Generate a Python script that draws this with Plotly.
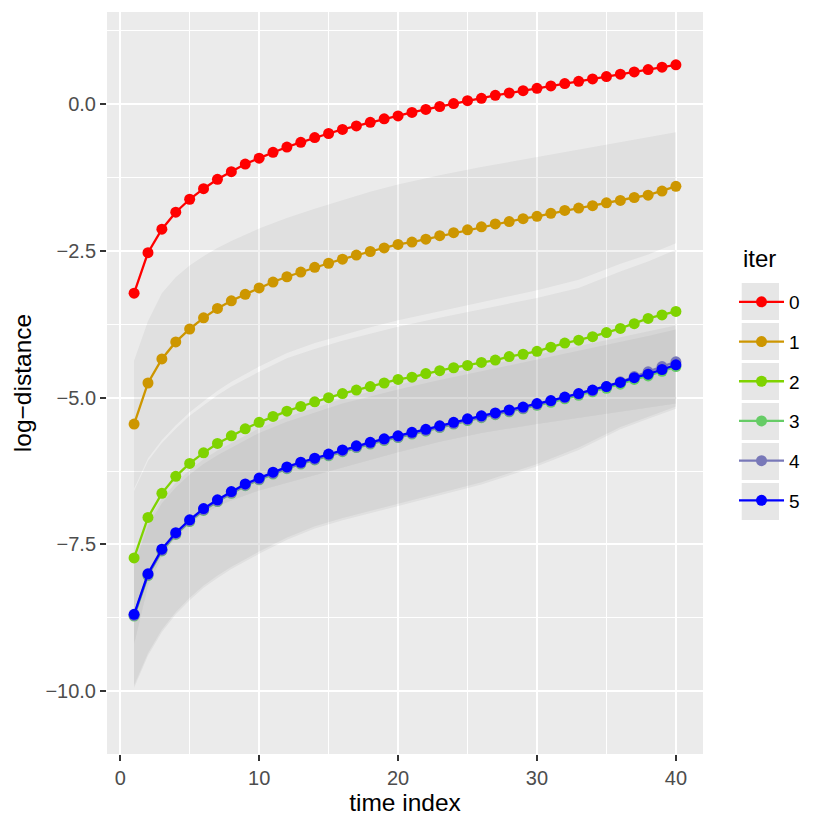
import plotly.graph_objects as go

# time index for the lines
t = list(range(1, 41))

iters = ["0", "1", "2", "3", "4", "5"]
colors = ["#FF0000", "#CD9600", "#7FD300", "#66CC66", "#7878B8", "#0000FF"]

# log-distance per iteration
dist_0 = [-3.22, -2.53, -2.13, -1.84, -1.62, -1.44, -1.28, -1.15, -1.02, -0.92,
          -0.82, -0.73, -0.65, -0.57, -0.50, -0.43, -0.37, -0.31, -0.25, -0.20,
          -0.14, -0.09, -0.04, 0.01, 0.06, 0.10, 0.15, 0.19, 0.23, 0.27,
          0.31, 0.35, 0.39, 0.43, 0.47, 0.51, 0.55, 0.59, 0.63, 0.67]
dist_1 = [-5.45, -4.75, -4.34, -4.05, -3.83, -3.64, -3.48, -3.35, -3.24, -3.13,
          -3.03, -2.94, -2.86, -2.78, -2.71, -2.64, -2.57, -2.51, -2.45, -2.39,
          -2.35, -2.30, -2.24, -2.19, -2.14, -2.09, -2.04, -2.00, -1.95, -1.91,
          -1.86, -1.81, -1.77, -1.73, -1.68, -1.64, -1.59, -1.55, -1.48, -1.40]
dist_2 = [-7.73, -7.04, -6.63, -6.34, -6.12, -5.94, -5.78, -5.65, -5.53, -5.42,
          -5.32, -5.23, -5.15, -5.07, -5.00, -4.93, -4.87, -4.81, -4.75, -4.69,
          -4.65, -4.59, -4.54, -4.49, -4.45, -4.40, -4.36, -4.30, -4.26, -4.21,
          -4.14, -4.07, -4.02, -3.96, -3.89, -3.82, -3.74, -3.65, -3.59, -3.53]
dist_3 = [-8.72, -8.03, -7.61, -7.33, -7.11, -6.92, -6.77, -6.63, -6.50, -6.40,
          -6.30, -6.21, -6.13, -6.06, -5.99, -5.92, -5.85, -5.79, -5.73, -5.68,
          -5.62, -5.57, -5.51, -5.45, -5.39, -5.34, -5.29, -5.24, -5.19, -5.13,
          -5.08, -5.02, -4.96, -4.90, -4.84, -4.77, -4.69, -4.63, -4.55, -4.47]
dist_4 = [-8.71, -8.02, -7.60, -7.32, -7.10, -6.91, -6.76, -6.62, -6.49, -6.39,
          -6.29, -6.20, -6.12, -6.05, -5.98, -5.91, -5.84, -5.78, -5.72, -5.67,
          -5.61, -5.56, -5.50, -5.44, -5.38, -5.33, -5.28, -5.23, -5.18, -5.12,
          -5.06, -5.00, -4.94, -4.88, -4.81, -4.73, -4.64, -4.56, -4.47, -4.39]
dist_5 = [-8.69, -8.00, -7.58, -7.30, -7.08, -6.89, -6.74, -6.60, -6.47, -6.37,
          -6.27, -6.18, -6.10, -6.03, -5.96, -5.89, -5.82, -5.76, -5.70, -5.65,
          -5.59, -5.54, -5.48, -5.42, -5.36, -5.31, -5.26, -5.21, -5.16, -5.10,
          -5.05, -4.99, -4.93, -4.87, -4.81, -4.74, -4.66, -4.60, -4.52, -4.44]
dists = [dist_0, dist_1, dist_2, dist_3, dist_4, dist_5]

# grey uncertainty bands, sampled at fewer time points
band_t = [1, 2, 3, 4, 5, 6, 7, 8, 10, 12, 14, 16, 18, 20, 23, 26, 30, 33, 36, 38, 40]
band0_hi = [-4.37, -3.70, -3.22, -2.95, -2.75, -2.59, -2.45, -2.33, -2.12, -1.94, -1.78,
            -1.63, -1.49, -1.37, -1.21, -1.07, -0.90, -0.77, -0.64, -0.56, -0.48]
band0_lo = [-6.55, -6.03, -5.72, -5.47, -5.25, -5.06, -4.88, -4.73, -4.47, -4.24, -4.07,
            -3.93, -3.80, -3.68, -3.52, -3.37, -3.17, -2.99, -2.72, -2.56, -2.37]
band1_hi = [-6.59, -6.08, -5.77, -5.53, -5.31, -5.13, -4.96, -4.81, -4.56, -4.33, -4.17,
            -4.03, -3.91, -3.79, -3.64, -3.49, -3.30, -3.13, -2.85, -2.68, -2.48]
band1_lo = [-9.20, -8.20, -7.70, -7.38, -7.15, -6.98, -6.85, -6.75, -6.58, -6.45, -6.32,
            -6.20, -6.06, -5.93, -5.75, -5.60, -5.45, -5.34, -5.24, -5.17, -5.10]
band2_hi = [-7.80, -7.10, -6.72, -6.45, -6.23, -6.05, -5.90, -5.77, -5.52, -5.33, -5.17,
            -5.02, -4.90, -4.78, -4.62, -4.47, -4.28, -4.13, -3.97, -3.87, -3.77]
band2_lo = [-9.90, -9.35, -8.95, -8.65, -8.41, -8.20, -8.03, -7.88, -7.62, -7.38, -7.19,
            -7.05, -6.92, -6.80, -6.62, -6.44, -6.13, -5.85, -5.50, -5.32, -5.15]
band5_hi = [-7.86, -7.18, -6.80, -6.53, -6.31, -6.13, -5.98, -5.85, -5.60, -5.41, -5.25,
            -5.10, -4.98, -4.86, -4.70, -4.55, -4.36, -4.21, -4.05, -3.95, -3.84]
band5_lo = [-9.94, -9.39, -8.99, -8.69, -8.45, -8.24, -8.07, -7.92, -7.66, -7.42, -7.23,
            -7.09, -6.96, -6.84, -6.66, -6.48, -6.17, -5.89, -5.54, -5.36, -5.19]
bands = [(band0_lo, band0_hi), (band1_lo, band1_hi), (band2_lo, band2_hi), (band5_lo, band5_hi)]

ytick_vals = [0, -2.5, -5, -7.5, -10]
ytick_text = ["0.0", "\u22122.5", "\u22125.0", "\u22127.5", "\u221210.0"]
xtick_vals = [0, 10, 20, 30, 40]

# the page body adds an 8px margin, so the figure is a bit smaller than the window
OFF = 8
W, H = 822, 822
L, R, T, B = 99, 127, 4, 76


def px(x, y):
    """window pixel position -> paper coords"""
    return (x - OFF - L) / (W - L - R), (H - B - (y - OFF)) / (H - T - B)


fig = go.Figure()

for lo, hi in bands:
    fig.add_trace(go.Scatter(
        x=band_t + band_t[::-1], y=hi + lo[::-1],
        fill="toself", fillcolor="rgba(125,125,125,0.1)",
        line=dict(width=0), mode="lines",
        showlegend=False, hoverinfo="skip"))

for i, name in enumerate(iters):
    fig.add_trace(go.Scatter(
        x=t, y=dists[i], mode="lines+markers", name=name,
        legendgroup=name,
        line=dict(color=colors[i], width=2.3),
        marker=dict(color=colors[i], size=11)))

# grey legend key boxes like ggplot
shapes = []
for i in range(len(iters)):
    x0, y0 = px(741.7, 283 + 40 * i)
    x1, y1 = px(779, 320 + 40 * i)
    shapes.append(dict(type="rect", xref="paper", yref="paper",
                       x0=x0, x1=x1, y0=y1, y1=y0,
                       fillcolor="#E6E6E6", line=dict(width=0), layer="below"))

lx, ly = px(734, 283)
tx, ty = px(741, 258)

axis_common = dict(
    showgrid=True, gridcolor="white", gridwidth=2.2,
    zeroline=False, showline=False,
    ticks="outside", ticklen=6, tickwidth=2, tickcolor="#333333",
    tickfont=dict(size=20, color="#4D4D4D"),
)

fig.update_layout(
    width=W, height=H,
    margin=dict(l=L, r=R, t=T, b=B, autoexpand=False),
    paper_bgcolor="white", plot_bgcolor="#EBEBEB",
    font=dict(family="Liberation Sans, Arial, sans-serif", color="black"),
    xaxis=dict(range=[-0.95, 41.95], tickvals=xtick_vals,
               minor=dict(tickvals=[5, 15, 25, 35], showgrid=True,
                          gridcolor="white", gridwidth=1.1, ticks=""),
               title=dict(text="time index", font=dict(size=24.5), standoff=4),
               **axis_common),
    yaxis=dict(range=[-11.07, 1.57], tickvals=ytick_vals, ticktext=ytick_text,
               minor=dict(tickvals=[1.25, -1.25, -3.75, -6.25, -8.75], showgrid=True,
                          gridcolor="white", gridwidth=1.1, ticks=""),
               title=dict(text="log\u2212distance", font=dict(size=24.5), standoff=6),
               **axis_common),
    legend=dict(x=lx, y=ly, xanchor="left", yanchor="top",
                bgcolor="rgba(0,0,0,0)", font=dict(size=19),
                itemwidth=45, tracegroupgap=12, traceorder="grouped"),
    annotations=[dict(text="iter", xref="paper", yref="paper", x=tx, y=ty,
                      xanchor="left", yanchor="middle", showarrow=False,
                      font=dict(size=24))],
    shapes=shapes,
)

fig.write_html("out.html")
